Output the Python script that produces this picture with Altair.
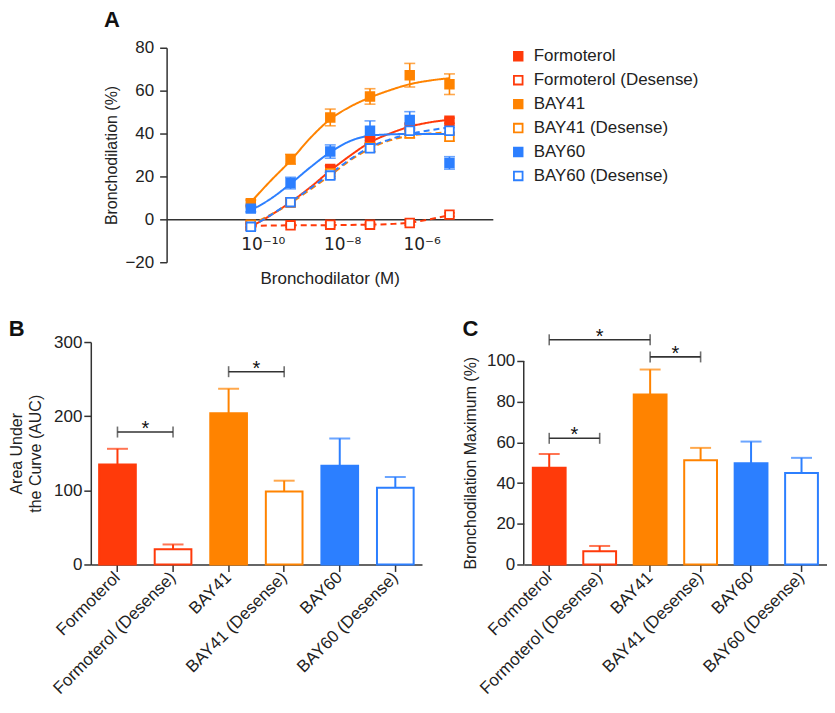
import altair as alt
import pandas as pd

FONT = "Liberation Sans"
RED = "#FF3A0A"
ORANGE = "#FF8300"
BLUE = "#2C7FFF"
INK = "#333333"

# ---------------- data ----------------
series = ["Formoterol", "Formoterol (Desense)", "BAY41", "BAY41 (Desense)", "BAY60", "BAY60 (Desense)"]
series_colors = [RED, RED, ORANGE, ORANGE, BLUE, BLUE]
series_fills = [RED, "white", ORANGE, "white", BLUE, "white"]
series_dashed = [False, True, False, True, False, True]

# Panel A: concentration-response (M)
conc = [5e-11, 5e-10, 5e-9, 5e-8, 5e-7, 5e-6]
resp = {
    "Formoterol": [-3.0, 8.0, 23.5, 36.7, 43.0, 46.0],
    "Formoterol (Desense)": [-2.8, -2.8, -2.5, -2.5, -1.7, 2.2],
    "BAY41": [7.5, 28.0, 47.5, 57.3, 67.2, 63.0],
    "BAY41 (Desense)": [-2.5, 7.8, 21.5, 33.5, 40.0, 38.5],
    "BAY60": [5.0, 16.9, 31.6, 41.3, 46.3, 26.3],
    "BAY60 (Desense)": [-3.5, 8.0, 20.4, 33.1, 41.3, 41.3],
}
resp_err = {
    "Formoterol": [1.0, 1.2, 1.5, 1.5, 1.5, 1.2],
    "Formoterol (Desense)": [0.8, 0.8, 1.0, 0.8, 1.0, 0.8],
    "BAY41": [1.5, 2.3, 3.9, 3.6, 5.5, 4.8],
    "BAY41 (Desense)": [1.0, 1.5, 1.5, 2.0, 2.0, 2.0],
    "BAY60": [1.5, 2.7, 3.1, 4.6, 3.9, 2.9],
    "BAY60 (Desense)": [1.5, 1.5, 1.5, 1.5, 1.5, 1.5],
}
# fitted curves (log10 M positions)
curve_logc = [-10.3, -9.8, -9.3, -8.8, -8.3, -7.8, -7.3, -6.8, -6.3, -5.8, -5.3]
curve = {
    "Formoterol": [-3.5, 1.9, 8.0, 15.0, 22.7, 29.7, 35.9, 40.0, 43.2, 45.2, 46.4],
    "Formoterol (Desense)": [-3.0, -2.9, -2.8, -2.8, -2.7, -2.6, -2.5, -2.2, -1.6, 0.0, 2.0],
    "BAY41": [8.0, 18.0, 27.4, 38.0, 46.7, 52.5, 56.8, 60.2, 63.0, 64.7, 65.8],
    "BAY41 (Desense)": [-2.5, 2.2, 7.5, 14.0, 20.5, 27.5, 33.0, 36.8, 39.0, 40.0, 40.5],
    "BAY60": [4.2, 9.6, 16.6, 24.3, 31.3, 36.5, 39.0, 39.6, 39.8, 39.8, 39.8],
    "BAY60 (Desense)": [-3.5, 2.0, 8.0, 14.5, 21.2, 28.0, 33.6, 37.3, 39.8, 41.5, 42.9],
}
x_tick_values = [1e-10, 1e-8, 1e-6]
x_tick_labels = ["10\u207b\u00b9\u2070", "10\u207b\u2078", "10\u207b\u2076"]

# Panel B: AUC
auc = [135, 20.5, 204, 98.5, 133, 103.5]
auc_err = [21, 6.5, 33, 14.5, 37, 14.5]
b_brackets = [("Formoterol", "Formoterol (Desense)", 178.6), ("BAY41", "BAY41 (Desense)", 260)]

# Panel C: maximum
bmax = [47.5, 6.5, 83.5, 51.2, 49.8, 44.9]
bmax_err = [6.8, 2.6, 12.3, 6.1, 10.6, 7.5]
c_brackets = [("Formoterol", "BAY41", 110.4), ("BAY41", "BAY41 (Desense)", 102), ("Formoterol", "Formoterol (Desense)", 62)]

# ---------------- tables ----------------
rowsA = []
for s, c in zip(series, series_colors):
    for xv, yv, ev in zip(conc, resp[s], resp_err[s]):
        rowsA.append({"series": s, "conc": xv, "resp": yv, "lo": yv - ev, "hi": yv + ev, "col": c})
dfA = pd.DataFrame(rowsA)

rowsC = []
for s in series:
    for lx, yv in zip(curve_logc, curve[s]):
        rowsC.append({"series": s, "conc": 10 ** lx, "fit": yv})
dfCurve = pd.DataFrame(rowsC)

# ---------------- panel A ----------------
A_W, A_H = 327, 215
xlog = alt.Scale(type="log", domain=[10 ** -12.42, 10 ** -4.21], nice=False)
yA = alt.Scale(domain=[-20, 80], nice=False, zero=False)
label_expr = " : ".join(
    [f"datum.value < {v * 3} ? '{l}'" for v, l in zip(x_tick_values[:-1], x_tick_labels[:-1])]
    + [f"'{x_tick_labels[-1]}'"]
)
xaxisA = alt.Axis(
    values=x_tick_values, labelExpr=label_expr, offset=-43, ticks=False, tickSize=0,
    labelPadding=17, titlePadding=18, grid=False, labelFontSize=17, titleFontSize=17,
    labelFont="DejaVu Sans", labelFlush=False,
)
yaxisA = alt.Axis(values=[-20, 0, 20, 40, 60, 80], tickSize=7, labelPadding=6,
                  titlePadding=5, grid=False, labelFontSize=17, titleFontSize=16)

lines = []
for s, c, d in zip(series, series_colors, series_dashed):
    lines.append(
        alt.Chart(dfCurve).transform_filter(alt.datum.series == s)
        .mark_line(color=c, strokeWidth=2, interpolate="monotone",
                   strokeDash=[6, 4] if d else [1, 0])
        .encode(x=alt.X("conc:Q", scale=xlog, axis=xaxisA, title="Bronchodilator (M)"),
                y=alt.Y("fit:Q", scale=yA, axis=yaxisA, title="Bronchodilation (%)"))
    )

ebar = alt.Chart(dfA).mark_rule(strokeWidth=1.6).encode(
    x="conc:Q", y="lo:Q", y2="hi:Q", stroke=alt.Stroke("col:N", scale=None))
cap_lo = alt.Chart(dfA).mark_tick(orient="horizontal", size=11, thickness=1.6).encode(
    x="conc:Q", y="lo:Q", color=alt.Color("col:N", scale=None))
cap_hi = alt.Chart(dfA).mark_tick(orient="horizontal", size=11, thickness=1.6).encode(
    x="conc:Q", y="hi:Q", color=alt.Color("col:N", scale=None))

legA = alt.Legend(title=None, orient="right", offset=17, symbolType="square", symbolSize=75,
                  symbolStrokeWidth=1.8, labelFontSize=17, labelFont=FONT, rowPadding=6,
                  labelOffset=7, padding=0, labelColor="#222222", labelLimit=0)
pts = alt.Chart(dfA).mark_point(shape="square", size=75, strokeWidth=1.8, opacity=1).encode(
    x="conc:Q", y="resp:Q",
    fill=alt.Fill("series:N", sort=series, scale=alt.Scale(domain=series, range=series_fills), legend=legA),
    stroke=alt.Stroke("series:N", sort=series, scale=alt.Scale(domain=series, range=series_colors), legend=legA),
)

chartA = alt.layer(*lines, ebar, cap_lo, cap_hi, pts).properties(
    width=A_W, height=A_H,
    title=alt.TitleParams("A", anchor="start", frame="bounds", fontSize=22, fontWeight="bold",
                          offset=7, color="#111111"),
)

spacer = alt.Chart(pd.DataFrame({"s": [0]})).mark_point(opacity=0).properties(width=13, height=5)

# ---------------- bar panels ----------------
def bar_panel(values, errs, brackets, ydomain, yvalues, ytitle, letter, width, pin, pout,
              half_step, extend_rule=None, title_y=None, title_pad=10, title_offset=0):
    df = pd.DataFrame({"group": series, "val": values, "hi": [v + e for v, e in zip(values, errs)],
                       "fill": series_fills, "col": series_colors})
    xs = alt.Scale(domain=series, paddingInner=pin, paddingOuter=pout)
    ys = alt.Scale(domain=ydomain, nice=False, zero=True)
    yax = dict(values=yvalues, tickSize=7, labelPadding=2, titlePadding=title_pad, grid=False,
               labelFontSize=17, titleFontSize=16)
    if extend_rule is not None:
        yax["domain"] = False
    if title_y is not None:
        yax["titleY"] = title_y
    xax = alt.Axis(labelAngle=-45, tickSize=7, labelPadding=3, labelFontSize=17, grid=False,
                   title=None, labelAlign="right", labelBaseline="middle")
    bars = alt.Chart(df).mark_bar(strokeWidth=2).encode(
        x=alt.X("group:N", sort=series, scale=xs, axis=xax),
        y=alt.Y("val:Q", scale=ys, axis=alt.Axis(**yax), title=ytitle),
        fill=alt.Fill("fill:N", scale=None),
        stroke=alt.Stroke("col:N", scale=None),
    )
    stem = alt.Chart(df).mark_rule(strokeWidth=2).encode(
        x=alt.X("group:N", sort=series), y="val:Q", y2="hi:Q", stroke=alt.Stroke("col:N", scale=None))
    cap = alt.Chart(df).mark_tick(orient="horizontal", size=21, thickness=2).encode(
        x=alt.X("group:N", sort=series), y="hi:Q", color=alt.Color("col:N", scale=None))

    brows, erows, srows_mid, srows_half = [], [], [], []
    for a, b, yv in brackets:
        brows.append({"a": a, "b": b, "y": yv})
        erows.append({"g": a, "y": yv})
        erows.append({"g": b, "y": yv})
        ia, ib = series.index(a), series.index(b)
        if ib - ia == 2:
            srows_mid.append({"g": series[ia + 1], "y": yv})
        else:
            srows_half.append({"g": a, "y": yv})
    br = alt.Chart(pd.DataFrame(brows)).mark_rule(color=INK, strokeWidth=1.6).encode(
        x=alt.X("a:N", sort=series), x2="b:N", y="y:Q")
    ends = alt.Chart(pd.DataFrame(erows)).mark_tick(orient="vertical", size=11, thickness=1.6, color=INK).encode(
        x=alt.X("g:N", sort=series), y="y:Q")
    layers = [bars, stem, cap, br, ends]
    if srows_half:
        layers.append(alt.Chart(pd.DataFrame(srows_half)).mark_text(
            text="*", fontSize=20, dx=half_step, dy=3, baseline="alphabetic", color="#111111").encode(
            x=alt.X("g:N", sort=series), y="y:Q"))
    if srows_mid:
        layers.append(alt.Chart(pd.DataFrame(srows_mid)).mark_text(
            text="*", fontSize=20, dy=3, baseline="alphabetic", color="#111111").encode(
            x=alt.X("g:N", sort=series), y="y:Q"))
    if extend_rule is not None:
        layers.append(alt.Chart(pd.DataFrame({"lo": [extend_rule[0]], "hi": [extend_rule[1]]})).mark_rule(
            color=INK, strokeWidth=1.5).encode(x=alt.value(0), y="lo:Q", y2="hi:Q"))
    return alt.layer(*layers).properties(
        width=width, height=223,
        title=alt.TitleParams(letter, anchor="start", frame="bounds", fontSize=22, fontWeight="bold",
                              offset=title_offset, color="#111111"),
    )

B_W = 332
chartB = bar_panel(auc, auc_err, b_brackets, [0, 300], [0, 100, 200, 300],
                   ["Area Under", "the Curve (AUC)"], "B", B_W, 0.34, 0.15,
                   half_step=B_W / (6 - 0.34 + 0.30) / 2, title_pad=10, title_offset=-8)

C_W = 304
C_TOP = 100 * 223 / 204
chartC = bar_panel(bmax, bmax_err, c_brackets, [0, C_TOP], [0, 20, 40, 60, 80, 100],
                   "Bronchodilation Maximum (%)", "C", C_W, 0.35, 0.18,
                   half_step=C_W / (6 - 0.35 + 0.36) / 2, extend_rule=[0, 100],
                   title_y=223 - 102, title_pad=8, title_offset=-14)

indep = dict(x="independent", y="independent", fill="independent", stroke="independent", color="independent")
rowA = (alt.hconcat(spacer, chartA, spacing=0)
        .resolve_scale(**indep)
        .resolve_legend(fill="independent", stroke="independent", color="independent"))
rowBC = alt.hconcat(chartB, chartC, spacing=40).resolve_scale(**indep)

chart = alt.vconcat(rowA, rowBC, spacing=31).resolve_scale(**indep).resolve_legend(
    fill="independent", stroke="independent", color="independent"
).properties(
    padding={"left": 0, "top": 0, "right": 0, "bottom": 0}, background="white"
).configure(font=FONT).configure_view(stroke=None).configure_axis(
    domainColor=INK, tickColor=INK, domainWidth=1.5, tickWidth=1.5,
    labelColor="#222222", titleColor="#222222", titleFontWeight="normal",
    labelFont=FONT, titleFont=FONT, titleLineHeight=19,
).configure_title(font=FONT)

chart.save("out.html", embed_options={"renderer": "svg", "actions": False})
